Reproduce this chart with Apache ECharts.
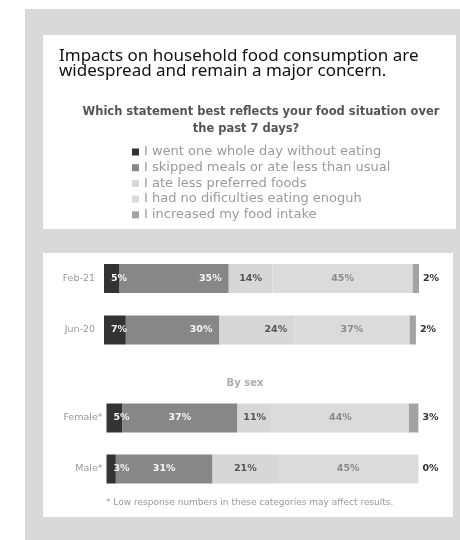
<!DOCTYPE html>
<html>
<head>
<meta charset="utf-8">
<script src="https://cdn.jsdelivr.net/npm/echarts@6/dist/echarts.min.js"></script>
<style>
  html, body { margin: 0; padding: 0; background: #ffffff; }
  #chart { width: 460px; height: 540px; }
</style>
</head>
<body>
<div id="chart"></div>
<script>
// Survey periods and sex breakdown, top to bottom
const periodCategories = ['Feb-21', 'Jun-20'];
const sexCategories = ['Female*', 'Male*'];

// Answer options, in stacking order
const statements = [
  'I went one whole day without eating',
  'I skipped meals or ate less than usual',
  'I ate less preferred foods',
  'I had no dificulties eating enoguh',
  'I increased my food intake'
];

// Share of respondents (%) for Feb-21, Jun-20, Female*, Male*
const wholeDayWithout = [5, 7, 5, 3];
const skippedMeals = [35, 30, 37, 31];
const lessPreferred = [14, 24, 11, 21];
const noDifficulties = [45, 37, 44, 45];
const increasedIntake = [2, 2, 3, 0];

const shares = [wholeDayWithout, skippedMeals, lessPreferred, noDifficulties, increasedIntake];

// Look of each answer option
const segColors = ['#333333', '#878787', '#d7d7d7', '#dbdbdb', '#a3a3a3'];
const labelColors = ['#f2f2f2', '#f5f5f5', '#555555', '#8a8a8a', '#333333'];
// Label placement tweaks for particular bars
const labelTweaks = {
  'Feb-21': { 1: 'insideRight' },
  'Jun-20': { 1: 'insideRight', 2: 'insideRight' }
};

const FONT = 'DejaVu Sans';

const groups = [
  { cats: periodCategories, offset: 0 },
  { cats: sexCategories, offset: 2 }
];

const series = [];
groups.forEach(function (grp, gi) {
  shares.forEach(function (vals, si) {
    const data = grp.cats.map(function (cat, ci) {
      const v = vals[grp.offset + ci];
      const tweak = labelTweaks[cat] && labelTweaks[cat][si];
      return tweak ? { value: v, label: { position: tweak, distance: 7 } } : v;
    });
    let pos = 'inside';
    let dist = 5;
    if (si === 0) { pos = 'insideLeft'; dist = 7; }
    if (si === 4) { pos = 'right'; dist = 4; }
    series.push({
      type: 'bar',
      name: statements[si],
      stack: 'g' + gi,
      xAxisIndex: gi,
      yAxisIndex: gi,
      barWidth: 29,
      data: data,
      itemStyle: { color: segColors[si] },
      label: {
        show: true,
        position: pos,
        distance: dist,
        formatter: '{c}%',
        color: labelColors[si],
        fontFamily: FONT,
        fontWeight: 'bold',
        fontSize: 9.5
      },
      emphasis: { disabled: true },
      animation: false
    });
  });
});

const valueAxis = function (gi) {
  return {
    type: 'value', gridIndex: gi, min: 0, max: 101,
    show: false
  };
};
const catAxis = function (gi, cats, margin) {
  return {
    type: 'category', gridIndex: gi, data: cats, inverse: true,
    axisLine: { show: false }, axisTick: { show: false },
    axisLabel: { color: '#999999', fontFamily: FONT, fontSize: 9.5, margin: margin }
  };
};

const chart = echarts.init(document.getElementById('chart'), null, { renderer: 'canvas' });
chart.setOption({
  backgroundColor: '#ffffff',
  animation: false,
  title: [
    {
      text: 'Impacts on household food consumption are\nwidespread and remain a major concern.',
      left: 54, top: 43,
      textStyle: { fontFamily: 'Noto Sans', fontSize: 17, fontWeight: 'normal', color: '#111111', lineHeight: 15.5 }
    },
    {
      text: 'Which statement best reflects your food situation over',
      left: 256, top: 101.5, textAlign: 'center',
      textStyle: { fontFamily: FONT, fontSize: 11.5, fontWeight: 'bold', color: '#555555' }
    },
    {
      text: 'the past 7 days?',
      left: 241, top: 118, textAlign: 'center',
      textStyle: { fontFamily: FONT, fontSize: 11.5, fontWeight: 'bold', color: '#555555' }
    }
  ],
  legend: {
    data: statements,
    orient: 'vertical',
    left: 132, top: 145.5,
    padding: 0,
    icon: 'rect',
    itemWidth: 7, itemHeight: 7,
    itemGap: 2.7,
    selectedMode: false,
    textStyle: { fontFamily: FONT, fontSize: 13, color: '#9a9a9a', lineHeight: 13 }
  },
  graphic: [
    { type: 'rect', z: -10, shape: { x: 25, y: 9, width: 435, height: 531 }, style: { fill: '#d9d9d9' } },
    { type: 'rect', z: -9, shape: { x: 43, y: 35, width: 413, height: 194 }, style: { fill: '#ffffff' } },
    { type: 'rect', z: -9, shape: { x: 43, y: 253, width: 410, height: 264 }, style: { fill: '#ffffff' } },
    {
      type: 'text', z: 5,
      style: { text: 'By sex', x: 245, y: 383, textAlign: 'center', textVerticalAlign: 'middle',
        fill: '#ababab', font: 'bold 10px "DejaVu Sans"' }
    },
    {
      type: 'text', z: 5,
      style: { text: '* Low response numbers in these categories may affect results.', x: 106, y: 503,
        textAlign: 'left', textVerticalAlign: 'middle', fill: '#9a9a9a', font: '9px "DejaVu Sans"' }
    }
  ],
  grid: [
    { left: 104, top: 252.75, width: 315, height: 103 },
    { left: 106.5, top: 392.5, width: 315, height: 102 }
  ],
  xAxis: [valueAxis(0), valueAxis(1)],
  yAxis: [catAxis(0, periodCategories, 9), catAxis(1, sexCategories, 4)],
  series: series
});
</script>
</body>
</html>
